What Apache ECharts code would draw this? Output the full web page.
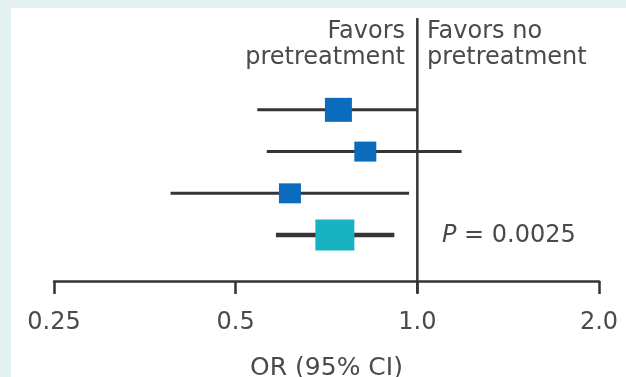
<!DOCTYPE html>
<html><head><meta charset="utf-8">
<script src="https://cdn.jsdelivr.net/npm/echarts@6/dist/echarts.min.js"></script>
<style>html,body{margin:0;padding:0;background:#e2f1ef;} #c{width:626px;height:377px;}</style>
</head><body><div id="c"></div>
<script>
// ---- data ----
const studies = ['Study 1', 'Study 2', 'Study 3', 'Pooled'];
const rowIndex = [1, 2, 3, 4];
const oddsRatio = [0.74, 0.82, 0.615, 0.73];
const ciLower = [0.543, 0.563, 0.39, 0.583];
const ciUpper = [1.0, 1.184, 0.969, 0.916];
const referenceOR = 1.0;
const tickValues = [0.25, 0.5, 1.0, 2.0];
const tickLabels = ['0.25', '0.5', '1.0', '2.0'];
const axisTitle = 'OR (95% CI)';
const leftNote = 'Favors\npretreatment';
const rightNote = 'Favors no\npretreatment';
const pValueText = '0.0025';

// ---- styles ----
const FONT = 'DejaVu Sans';
const TEXT = '#4a4a4a';
const INK = '#353535';
const markerStyle = [
  {size: [27, 24], color: '#0b6bbd', lw: 3},
  {size: [22, 20], color: '#0b6bbd', lw: 3},
  {size: [22, 20], color: '#0b6bbd', lw: 3},
  {size: [39, 31], color: '#19b2c2', lw: 4.5}
];
const Y_MIN = -1.2, Y_MAX = 5.1;

const chart = echarts.init(document.getElementById('c'), null, {renderer: 'canvas'});
chart.setOption({
  backgroundColor: '#e2f1ef',
  animation: false,
  grid: {left: 54, right: 27, top: 18, bottom: 96, containLabel: false, outerBoundsMode: 'none'},
  graphic: [
    {type: 'rect', z: -10, shape: {x: 11, y: 8, width: 626, height: 377}, style: {fill: '#ffffff'}},
    {type: 'text', x: 405, y: 19, style: {text: leftNote, textAlign: 'right', textVerticalAlign: 'top', font: '24px "DejaVu Sans"', lineHeight: 26, fill: TEXT}},
    {type: 'text', x: 427, y: 19, style: {text: rightNote, textAlign: 'left', textVerticalAlign: 'top', font: '24px "DejaVu Sans"', lineHeight: 26, fill: TEXT}},
    {type: 'text', x: 442, y: 236, style: {
      text: '{i|P} = ' + pValueText, textAlign: 'left', textVerticalAlign: 'middle', fill: TEXT,
      font: '24px "DejaVu Sans"',
      rich: {i: {fontStyle: 'italic', fontSize: 24, fontFamily: FONT, fill: TEXT}}
    }}
  ],
  xAxis: {
    type: 'log', logBase: 2, min: tickValues[0], max: tickValues[tickValues.length - 1], interval: 1,
    axisLine: {onZero: false, lineStyle: {color: INK, width: 2.5}},
    axisTick: {length: 13, lineStyle: {color: INK, width: 2.5}},
    splitLine: {show: false},
    axisLabel: {
      margin: 30, fontSize: 24, fontFamily: FONT, color: TEXT,
      formatter: function (v) {
        let best = 0;
        tickValues.forEach((t, i) => { if (Math.abs(Math.log2(t) - Math.log2(v)) < Math.abs(Math.log2(tickValues[best]) - Math.log2(v))) best = i; });
        return tickLabels[best];
      }
    },
    name: axisTitle, nameLocation: 'middle', nameGap: 75,
    nameTextStyle: {fontSize: 25, fontFamily: FONT, color: TEXT}
  },
  yAxis: {type: 'value', inverse: true, min: Y_MIN, max: Y_MAX, show: false},
  series: [
    {
      type: 'custom', z: 1, clip: false,
      data: [[referenceOR, Y_MIN, Y_MAX]],
      encode: {x: 0, y: [1, 2]},
      renderItem: function (params, api) {
        const a = api.coord([api.value(0), api.value(1)]);
        const b = api.coord([api.value(0), api.value(2)]);
        return {type: 'line', shape: {x1: a[0], y1: a[1], x2: b[0], y2: b[1] + 12}, style: {stroke: INK, lineWidth: 2.5}};
      }
    },
    {
      type: 'custom', z: 2,
      data: studies.map((s, i) => [ciLower[i], ciUpper[i], rowIndex[i]]),
      encode: {x: [0, 1], y: 2},
      renderItem: function (params, api) {
        const a = api.coord([api.value(0), api.value(2)]);
        const b = api.coord([api.value(1), api.value(2)]);
        return {type: 'line', shape: {x1: a[0], y1: a[1], x2: b[0], y2: b[1]}, style: {stroke: INK, lineWidth: markerStyle[params.dataIndex].lw}};
      }
    },
    {
      type: 'scatter', z: 3, symbol: 'rect',
      data: studies.map((s, i) => ({name: s, value: [oddsRatio[i], rowIndex[i]], itemStyle: {color: markerStyle[i].color, opacity: 1}})),
      symbolSize: function (v, p) { return markerStyle[p.dataIndex].size; }
    }
  ]
});
</script></body></html>
